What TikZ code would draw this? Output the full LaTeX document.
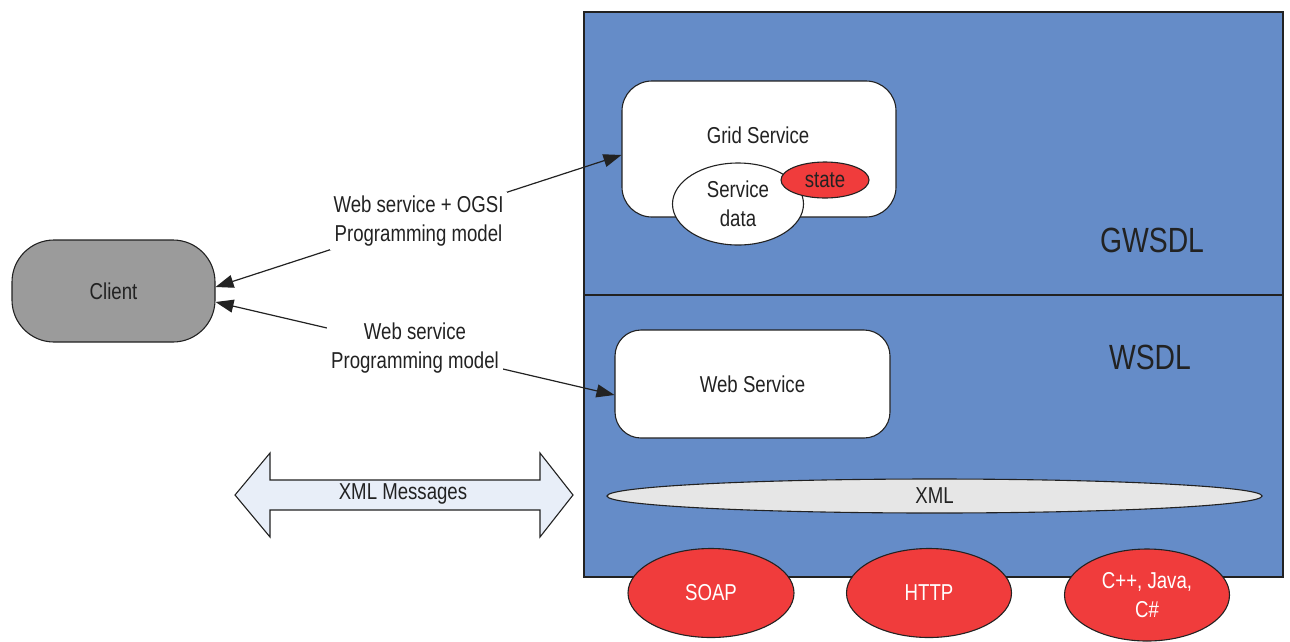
\documentclass[tikz,border=0pt]{standalone}
\usepackage{fontspec}
\setmainfont{Liberation Sans}[FakeStretch=0.81]
\usetikzlibrary{shapes.geometric,arrows.meta}

\definecolor{layerblue}{RGB}{101,140,200}
\definecolor{hotred}{RGB}{240,60,60}
\definecolor{clientgray}{RGB}{155,155,155}
\definecolor{xmlgray}{RGB}{230,230,230}
\definecolor{msgfill}{RGB}{232,238,248}
\definecolor{ink}{RGB}{34,34,34}

\tikzset{
  layer/.style={draw=ink, line width=1.3pt, fill=layerblue},
  svcbox/.style={draw=ink, line width=1.1pt, fill=white, rectangle, inner sep=0pt},
  oval/.style={ellipse, draw=ink, line width=1.1pt, inner sep=0pt, align=center},
  redoval/.style={oval, fill=hotred, text=white},
  plain/.style={inner sep=0pt, text=ink, align=center},
  link/.style={draw=ink, line width=1.2pt, {Triangle[length=18pt,width=13pt]}-{Triangle[length=18pt,width=13pt]}},
  linklabel/.style={fill=white, inner sep=4pt, text=ink, align=center},
}

\begin{document}
\begin{tikzpicture}[x=1pt, y=-1pt, font=\fontsize{23}{29}\selectfont]
\useasboundingbox (0,0) rectangle (1290,641);

% protocol stack: GWSDL layer above WSDL layer
\filldraw[layer] (584,12) rectangle (1283,577);
\draw[draw=ink, line width=1.3pt] (584,295) -- (1283,295);
\node[plain, font=\fontsize{35}{40}\selectfont] (gwsdl) at (1152,240) {GWSDL};
\node[plain, font=\fontsize{35}{40}\selectfont] (wsdl) at (1150,357) {WSDL};

% grid service with its service data and state
\node[svcbox, rounded corners=30pt, minimum width=274pt, minimum height=136pt] (grid) at (759,149) {};
\node[plain] (gridtext) at (758,135) {Grid Service};
\node[oval, fill=white, minimum width=131pt, minimum height=82pt, text=ink] (sdata) at (738,204) {Service\\data};
\node[redoval, text=ink, minimum width=88pt, minimum height=36pt] (state) at (825,180) {state};

% plain web service
\node[svcbox, rounded corners=26pt, minimum width=275pt, minimum height=108pt, text=ink] (ws) at (752.5,384) {Web Service};

% XML layer
\node[oval, fill=xmlgray, minimum width=655pt, minimum height=34pt, text=ink] (xml) at (934.5,496) {XML};

% transport and language bindings
\node[redoval, minimum width=166pt, minimum height=89pt] (soap) at (711,593) {SOAP};
\node[redoval, minimum width=165pt, minimum height=89pt] (http) at (929,593) {HTTP};
\node[redoval, minimum width=165pt, minimum height=92pt] (lang) at (1147,595) {C++, Java,\\C\#};

% client
\node[svcbox, fill=clientgray, rounded corners=42pt, minimum width=203pt, minimum height=102pt, text=ink] (client) at (113.5,291) {Client};

% programming model links
\draw[link] ([yshift=4pt]client.east) -- node[linklabel] (lbl1) {Web service + OGSI\\Programming model} ([yshift=-6pt]grid.west);
\draw[link] ([yshift=-11pt]client.east) -- node[linklabel] (lbl2) {Web service\\Programming model} ([yshift=-11pt]ws.west);

% XML messages double arrow
\filldraw[draw=ink, line width=1.1pt, fill=msgfill]
  (235,495) -- (270,453) -- (270,480) -- (540,480) -- (540,453) -- (573,495)
  -- (540,537) -- (540,510) -- (270,510) -- (270,537) -- cycle;
\node[plain] (msgs) at (403,494) {XML Messages};

\end{tikzpicture}
\end{document}
